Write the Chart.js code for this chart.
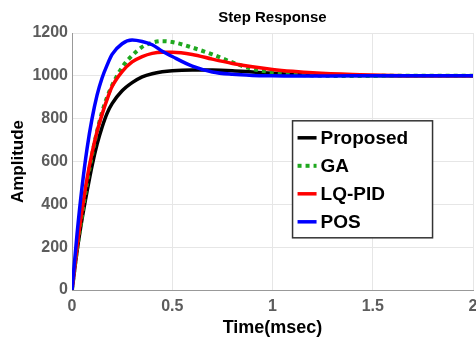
<!DOCTYPE html>
<html lang="en">
<head>
    <meta charset="UTF-8">
    <title>Step Response</title>
    <script src="https://cdn.jsdelivr.net/npm/chart.js"></script>
    <style>
        body {
            margin: 0;
            overflow: hidden;
            background: white;
        }
        canvas {
            display: block;
        }
    </style>
</head>
<body>
    <canvas id="stepChart" width="490" height="341"></canvas>

    <script>
        // time in msec
        const timeMs = [0, 0.025, 0.05, 0.075, 0.1, 0.125, 0.15, 0.175, 0.2, 0.25, 0.3, 0.35, 0.4, 0.45, 0.5,
                        0.6, 0.7, 0.8, 0.9, 1.0, 1.1, 1.2, 1.4, 1.6, 1.8, 2.0];

        const proposed = [0, 180, 330, 460, 580, 680, 760, 825, 870, 930, 968, 995, 1010, 1019, 1024,
                          1027, 1027, 1024, 1018, 1012, 1007, 1004, 1001, 1000, 1000, 1000];
        const ga = [0, 190, 350, 500, 630, 740, 830, 900, 955, 1040, 1095, 1135, 1155, 1162, 1158,
                    1132, 1100, 1063, 1032, 1017, 1007, 1002, 999, 1000, 1000, 1000];
        const lqPid = [0, 200, 370, 520, 640, 740, 820, 890, 950, 1020, 1065, 1090, 1105, 1110, 1110,
                       1100, 1078, 1058, 1042, 1030, 1021, 1014, 1006, 1002, 1000, 1000];
        const pos = [0, 260, 480, 660, 800, 910, 990, 1050, 1100, 1150, 1167, 1160, 1145, 1115, 1090,
                     1045, 1018, 1007, 1002, 1000, 999, 999, 1000, 1000, 1000, 1000];

        const xTicks = [0, 0.5, 1, 1.5, 2];
        const yTicks = [0, 200, 400, 600, 800, 1000, 1200];

        const FONT = "'Liberation Sans', Arial, sans-serif";

        function toPoints(values) {
            return timeMs.map((t, i) => ({ x: t, y: values[i] }));
        }

        // title centred on the plot + legend box inside the plot, matlab style
        const boxLegend = {
            id: "boxLegend",
            afterDatasetsDraw(chart) {
                const ctx = chart.ctx;
                const area = chart.chartArea;
                const xs = chart.scales.x, ys = chart.scales.y;
                ctx.save();
                ctx.fillStyle = "black";
                ctx.font = "bold 15px " + FONT;
                ctx.textAlign = "center";
                ctx.textBaseline = "middle";
                ctx.fillText("Step Response", (area.left + area.right) / 2, 18);

                const left = xs.getPixelForValue(1.1);
                const top = ys.getPixelForValue(790);
                const w = 140, h = 117;
                ctx.fillStyle = "white";
                ctx.fillRect(left, top, w, h);
                ctx.strokeStyle = "#333";
                ctx.lineWidth = 1.5;
                ctx.strokeRect(left, top, w, h);
                ctx.font = "bold 19px " + FONT;
                ctx.textAlign = "left";
                const items = [...chart.data.datasets].sort((a, b) => b.order - a.order);
                items.forEach((ds, i) => {
                    const y = top + 17 + i * 28;
                    ctx.beginPath();
                    ctx.strokeStyle = ds.borderColor;
                    ctx.lineWidth = ds.borderWidth;
                    ctx.setLineDash(ds.borderDash || []);
                    ctx.moveTo(left + 5, y);
                    ctx.lineTo(left + 24, y);
                    ctx.stroke();
                    ctx.setLineDash([]);
                    ctx.fillStyle = "black";
                    ctx.fillText(ds.label, left + 28, y + 1);
                });
                ctx.restore();
            }
        };

        const tickFont = { family: FONT, size: 16, weight: "bold" };

        new Chart(document.getElementById("stepChart"), {
            type: "line",
            data: {
                datasets: [
                    { label: "Proposed", data: toPoints(proposed), borderColor: "#000000", borderWidth: 3.5, order: 4 },
                    { label: "GA", data: toPoints(ga), borderColor: "#1fa81f", borderWidth: 4, borderDash: [4, 4], order: 3 },
                    { label: "LQ-PID", data: toPoints(lqPid), borderColor: "#ff0000", borderWidth: 3.5, order: 2 },
                    { label: "POS", data: toPoints(pos), borderColor: "#0000ff", borderWidth: 3.5, order: 1 }
                ]
            },
            options: {
                responsive: false,
                animation: false,
                layout: { padding: { left: 0, right: 17, top: 33, bottom: 0 } },
                elements: {
                    point: { radius: 0 },
                    line: { tension: 0.4, cubicInterpolationMode: "monotone", fill: false }
                },
                plugins: {
                    legend: { display: false },
                    tooltip: { enabled: false },
                    title: { display: false }
                },
                scales: {
                    x: {
                        type: "linear",
                        min: 0,
                        max: 2,
                        afterBuildTicks: axis => { axis.ticks = xTicks.map(v => ({ value: v })); },
                        afterFit: axis => { axis.height = 51; },
                        ticks: { color: "#5c5c5c", font: tickFont, padding: 7, maxRotation: 0, callback: v => String(v) },
                        grid: { color: "#e6e6e6", drawTicks: false },
                        border: { color: "#999" },
                        title: {
                            display: true,
                            text: "Time(msec)",
                            color: "#000",
                            font: { family: FONT, size: 18, weight: "bold" },
                            padding: { top: 2, bottom: 2 }
                        }
                    },
                    y: {
                        min: 0,
                        max: 1200,
                        afterBuildTicks: axis => { axis.ticks = yTicks.map(v => ({ value: v })); },
                        afterFit: axis => { axis.width = 72; },
                        ticks: { color: "#5c5c5c", font: tickFont, padding: 4, callback: v => String(v) },
                        grid: { color: "#e6e6e6", drawTicks: false },
                        border: { color: "#999" },
                        title: {
                            display: true,
                            text: "Amplitude",
                            color: "#000",
                            font: { family: FONT, size: 17, weight: "bold" },
                            padding: { top: 8, bottom: 0 }
                        }
                    }
                }
            },
            plugins: [boxLegend]
        });
    </script>
</body>
</html>
